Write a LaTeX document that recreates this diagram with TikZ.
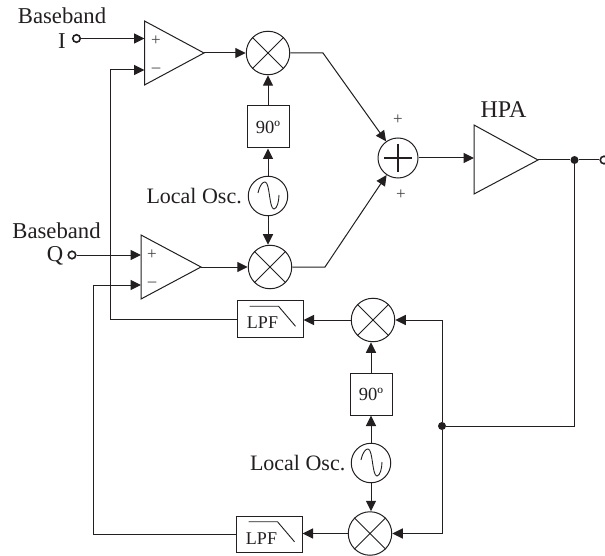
\documentclass[tikz,border=0pt]{standalone}
\usepackage{fontspec}
\setmainfont{Liberation Serif}
\usetikzlibrary{arrows.meta}
\definecolor{ink}{HTML}{231F20}
\tikzset{
  wire/.style={draw=ink,line width=1pt},
  arr/.style={wire,-{Triangle[length=10.5pt,width=10pt]}},
  mixer/.style={circle,draw=ink,line width=1pt,minimum size=43.5pt,inner sep=0pt},
  osc/.style={circle,draw=ink,line width=1pt,minimum size=39.5pt,inner sep=0pt},
  phase/.style={rectangle,draw=ink,line width=1pt,minimum width=42pt,minimum height=42pt,inner sep=0pt,text=ink,font=\fontsize{18.5}{20}\selectfont},
  lpf/.style={rectangle,draw=ink,line width=1pt,minimum width=66pt,minimum height=36.5pt,inner sep=0pt},
  lbl/.style={inner sep=0pt,text=ink,font=\fontsize{22.7}{24}\selectfont},
  osclbl/.style={inner sep=0pt,text=ink,anchor=east,font=\fontsize{22}{24}\selectfont},
  small/.style={inner sep=0pt,text=ink,font=\fontsize{18}{20}\selectfont},
  sign/.style={inner sep=0pt,text=ink!85,font=\fontsize{17}{18}\selectfont},
  port/.style={circle,draw=ink,line width=1.6pt,fill=white,minimum size=7.5pt,inner sep=0pt},
  dot/.style={circle,fill=ink,minimum size=8pt,inner sep=0pt},
  amp/.style={draw=ink,line width=1pt,line join=miter}
}
\newcommand{\crossmark}[1]{\draw[wire,line width=0.9pt] (#1.45)--(#1.225) (#1.135)--(#1.315);}
\newcommand{\sinemark}[1]{\draw[wire,line width=0.9pt] ([shift={(-10,-3)}]#1.center) .. controls ([shift={(-8,-12)}]#1.center) and ([shift={(-5,-14)}]#1.center) .. ([shift={(-3,-14)}]#1.center) .. controls ([shift={(2,-14)}]#1.center) and ([shift={(1,13)}]#1.center) .. ([shift={(6,13)}]#1.center) .. controls ([shift={(9,13)}]#1.center) and ([shift={(11,5)}]#1.center) .. ([shift={(11,-1)}]#1.center);}
\newcommand{\lpfmark}[1]{\draw[wire,line width=0.9pt] ([shift={(13,6)}]#1.north west) -- ([shift={(42,6)}]#1.north west) -- ([shift={(59,26)}]#1.north west);
  \node[small] at ([shift={(26,22.5)}]#1.north west) {LPF};}
\begin{document}
\begin{tikzpicture}[x=1pt,y=-1pt]
\useasboundingbox (0,0) rectangle (605,556);
% amplifiers
\draw[amp] (144.5,21) -- (204,53) -- (144.5,85) -- cycle;
\draw[amp] (141,235) -- (201,267) -- (141,299) -- cycle;
\draw[amp] (474,125) -- (538,160) -- (474,194) -- cycle;
\coordinate (a1p) at (144.5,38.5);
\coordinate (a1m) at (144.5,70);
\coordinate (a1o) at (204,53);
\coordinate (a2p) at (141,255);
\coordinate (a2m) at (141,285);
\coordinate (a2o) at (201,267);
\coordinate (hi) at (474,158);
\coordinate (ho) at (538,160);
% blocks
\node[mixer] (m1) at (268,53) {};
\node[mixer] (m2) at (270,267) {};
\node[mixer] (m3) at (373,320) {};
\node[mixer] (m4) at (370,533.5) {};
\crossmark{m1}\crossmark{m2}\crossmark{m3}\crossmark{m4}
\node[phase] (p1) at (268,127) {90º};
\node[phase] (p2) at (371,394) {90º};
\node[osc] (o1) at (268,196) {};
\node[osc] (o2) at (371,463) {};
\sinemark{o1}\sinemark{o2}
\node[lpf] (f1) at (270,319) {};
\node[lpf] (f2) at (269,534.5) {};
\lpfmark{f1}\lpfmark{f2}
\node[circle,draw=ink,line width=1pt,minimum size=40pt,inner sep=0pt] (sum) at (398,158) {};
\draw[ink,line width=2pt] (384,158) -- (412,158) (398,144) -- (398,172);
% ports and junctions
\node[port] (ii) at (76.5,38.5) {};
\node[port] (qq) at (72,255) {};
\node[port] (out) at (604,160) {};
\node[dot] (j1) at (574.5,160) {};
\node[dot] (j2) at (442,426) {};
% routing points
\coordinate (c1) at (110,70);
\coordinate (c2) at (93,285);
\coordinate (k1) at (323,53);
\coordinate (k2) at (325,267);
% connectors
\draw[arr] (ii) -- (a1p);
\draw[arr] (qq) -- (a2p);
\draw[arr] (a1o) -- (m1);
\draw[arr] (a2o) -- (m2);
\draw[arr] (p1) -- (m1);
\draw[arr] (o1) -- (p1);
\draw[arr] (o1) -- (m2.north -| o1);
\draw[arr] (m1.east) -- (k1) -- (sum);
\draw[arr] (m2.east) -- (k2) -- (sum);
\draw[arr] (sum) -- (hi);
\draw[wire] (ho) -- (j1) -- (out);
\draw[wire] (j1) |- (j2);
\draw[arr] (j2) |- (m3);
\draw[arr] (j2) |- (m4);
\draw[arr] (m3) -- (f1.east |- m3);
\draw[arr] (m4) -- (f2.east |- m4);
\draw[arr] (p2) -- (m3.south -| p2);
\draw[arr] (o2) -- (p2);
\draw[arr] (o2) -- (m4.north -| o2);
\draw[arr] (f1.west) -| (c1) -- (a1m);
\draw[arr] (f2.west) -| (c2) -- (a2m);
% labels
\node[lbl] at (62,15.5) {Baseband};
\node[lbl] at (62,41) {I};
\node[lbl] at (56.5,231) {Baseband};
\node[lbl] at (55,256) {Q};
\node[osclbl] at (242,196) {Local Osc.};
\node[osclbl] at (345.5,463) {Local Osc.};
\node[lbl,font=\fontsize{24}{26}\selectfont] at (503.5,110) {HPA};
\node[sign] at (156,41) {+};
\node[sign] at (156,70.5) {–};
\node[sign] at (152,255) {+};
\node[sign] at (152,284.5) {–};
\node[sign] at (398,120) {+};
\node[sign] at (401,195) {+};
\end{tikzpicture}
\end{document}
